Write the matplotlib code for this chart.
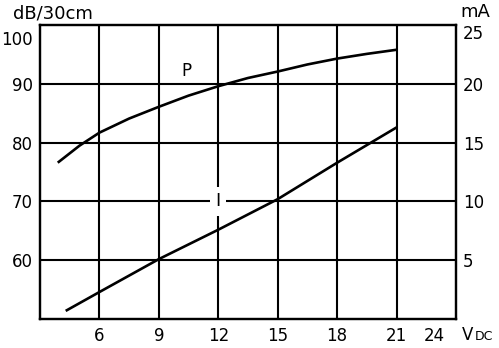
import matplotlib.pyplot as plt
from matplotlib.transforms import ScaledTranslation

# P curve (sound level, left axis)
p_volts = [3.9, 5.0, 6.0, 7.5, 9.0, 10.5, 12.0, 13.5, 15.0, 16.5, 18.0, 19.5, 21.0]
p_db = [76.6, 79.5, 81.7, 84.1, 86.1, 88.0, 89.6, 91.0, 92.1, 93.3, 94.3, 95.1, 95.8]

# I curve (current, right axis)
i_volts = [4.3, 6.0, 9.0, 12.0, 15.0, 18.0, 21.0]
i_ma = [0.7, 2.3, 5.1, 7.6, 10.2, 13.3, 16.3]

x_ticks = [6, 9, 12, 15, 18, 21, 24]
db_ticks = [60, 70, 80, 90, 100]
ma_ticks = [5, 10, 15, 20, 25]

plt.rcParams['font.family'] = 'DejaVu Sans'
fig = plt.figure(figsize=(4.99, 3.48), dpi=100)
ax = fig.add_axes([0.080, 0.083, 0.834, 0.845])
ax2 = ax.twinx()

ax.set_xlim(3, 24)
ax.set_ylim(50, 100)
ax2.set_ylim(0, 25)

# grid drawn by hand to look like the scanned sheet
for v in x_ticks[:-1]:
    ax.axvline(v, color='black', lw=1.5, zorder=1)
for d in db_ticks[:-1]:
    ax.axhline(d, color='black', lw=1.5, zorder=1)

for a in (ax, ax2):
    for s in a.spines.values():
        s.set_linewidth(1.6)
        s.set_color('black')
    a.tick_params(length=0, labelsize=12)

ax.set_xticks(x_ticks)
ax.set_xticklabels([str(v) for v in x_ticks])
ax.tick_params(axis='x', pad=6)
ax.set_yticks(db_ticks)
ax.tick_params(axis='y', pad=5)
ax2.set_yticks(ma_ticks)
ax2.tick_params(axis='y', pad=5)

# top labels sit a bit below the frame, "24" is nudged left for the unit
lab100 = ax.get_yticklabels()[-1]
lab100.set_va('top')
lab100.set_transform(lab100.get_transform() + ScaledTranslation(0, -0.06, fig.dpi_scale_trans))
ax2.get_yticklabels()[-1].set_va('top')
lab24 = ax.get_xticklabels()[-1]
lab24.set_transform(lab24.get_transform() + ScaledTranslation(-0.22, 0, fig.dpi_scale_trans))

p_ma = [(d - 50) / 2 for d in p_db]
ax2.plot(p_volts, p_ma, color='black', lw=1.9, solid_capstyle='butt')
ax2.plot(i_volts, i_ma, color='black', lw=1.9, solid_capstyle='butt')

ax.text(10.4, 92.2, 'P', fontsize=12, ha='center', va='center', zorder=5)
ax.text(12.0, 70.0, 'I', fontsize=13, ha='center', va='center', zorder=5,
        bbox=dict(facecolor='white', edgecolor='none', pad=4))

fig.text(0.026, 0.962, 'dB/30cm', fontsize=13, ha='left', va='center')
fig.text(0.983, 0.965, 'mA', fontsize=13, ha='right', va='center')
fig.text(0.925, 0.037, 'V', fontsize=12, ha='left', va='center')
fig.text(0.952, 0.032, 'DC', fontsize=9, ha='left', va='center')

fig.savefig('out.png', dpi=100)
